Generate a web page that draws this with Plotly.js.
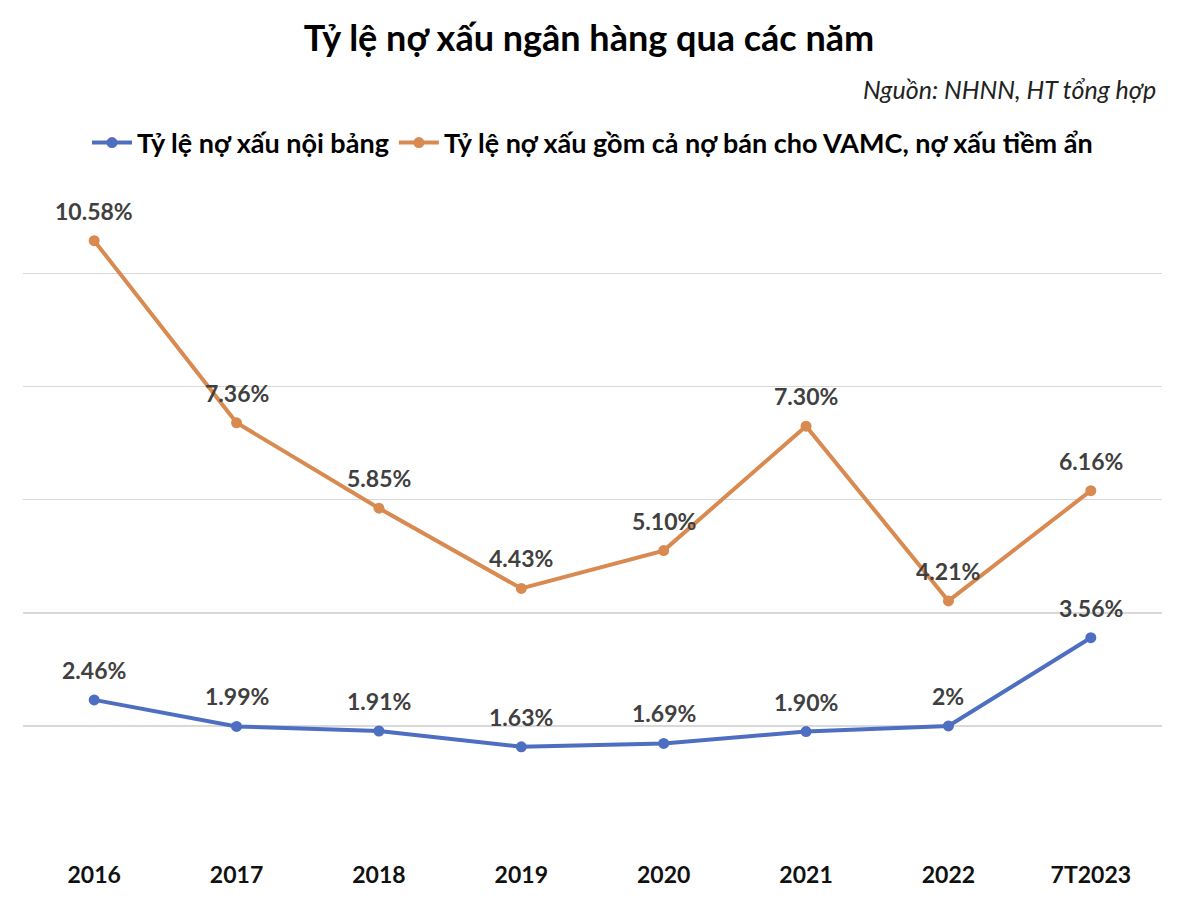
<!DOCTYPE html>
<html>
<head>
<meta charset="utf-8">
<script src="https://cdn.plot.ly/plotly-3.0.1.min.js"></script>
<style>html,body{margin:0;padding:0;background:#fff;}#chart{width:1178px;height:910px;}</style>
</head>
<body>
<div id="chart"></div>
<script>
const categories = ["2016", "2017", "2018", "2019", "2020", "2021", "2022", "7T2023"];
const noiBang = [2.46, 1.99, 1.91, 1.63, 1.69, 1.90, 2.00, 3.56];
const noiBangLabels = ["2.46%", "1.99%", "1.91%", "1.63%", "1.69%", "1.90%", "2%", "3.56%"];
const gomCa = [10.58, 7.36, 5.85, 4.43, 5.10, 7.30, 4.21, 6.16];
const gomCaLabels = ["10.58%", "7.36%", "5.85%", "4.43%", "5.10%", "7.30%", "4.21%", "6.16%"];

const nameBlue = "Tỷ lệ nợ xấu nội bảng";
const nameOrange = "Tỷ lệ nợ xấu gồm cả nợ bán cho VAMC, nợ xấu tiềm ẩn";
const colBlue = "#4E6EC2";
const colOrange = "#D88A50";
const font = "Lato, 'Open Sans', sans-serif";

const traces = [
  {x: categories, y: noiBang, name: nameBlue, type: "scatter", mode: "lines+markers",
   line: {color: colBlue, width: 4}, marker: {color: colBlue, size: 11}},
  {x: categories, y: gomCa, name: nameOrange, type: "scatter", mode: "lines+markers",
   line: {color: colOrange, width: 4}, marker: {color: colOrange, size: 11}}
];

const annotations = [];
function addLabels(vals, labels) {
  vals.forEach((v, i) => annotations.push({
    x: i, y: v, xref: "x", yref: "y", text: "<b>" + labels[i] + "</b>", showarrow: false,
    yshift: 30, font: {family: font, size: 23, color: "#404040"}
  }));
}
addLabels(noiBang, noiBangLabels);
addLabels(gomCa, gomCaLabels);
annotations.push({
  xref: "paper", yref: "paper", x: 1.0, y: 1, xanchor: "right", yanchor: "middle",
  yshift: 94, xshift: -4,
  text: "<i>Nguồn: NHNN, HT tổng hợp</i>", showarrow: false,
  font: {family: font, size: 25, color: "#222"}
});

const layout = {
  width: 1178, height: 910,
  margin: {l: 23, r: 16, t: 183, b: 71},
  paper_bgcolor: "#fff", plot_bgcolor: "#fff",
  title: {text: "<b>Tỷ lệ nợ xấu ngân hàng qua các năm</b>", x: 0.5, xanchor: "center", y: 0.958, yanchor: "middle",
          font: {family: font, size: 36, color: "#000"}},
  showlegend: true,
  legend: {orientation: "h", x: 0.5, xanchor: "center", y: 1.061, yanchor: "middle", yref: "paper",
           font: {family: font, size: 27, color: "#000", weight: "bold"}, itemwidth: 40, tracegroupgap: 0,
           traceorder: "normal"},
  xaxis: {type: "category", range: [-0.5, 7.5], showgrid: false, zeroline: false, showline: false,
          ticks: "", ticklabelstandoff: 20,
          tickfont: {family: font, size: 23, color: "#111", weight: "bold"}},
  yaxis: {range: [0, 11.6], dtick: 2, tick0: 0, showticklabels: false, ticks: "",
          showgrid: true, gridcolor: "#D9D9D9", gridwidth: 1.5, zeroline: false, showline: false},
  annotations: annotations
};

Plotly.newPlot("chart", traces, layout, {displayModeBar: false, staticPlot: true});
</script>
</body>
</html>
